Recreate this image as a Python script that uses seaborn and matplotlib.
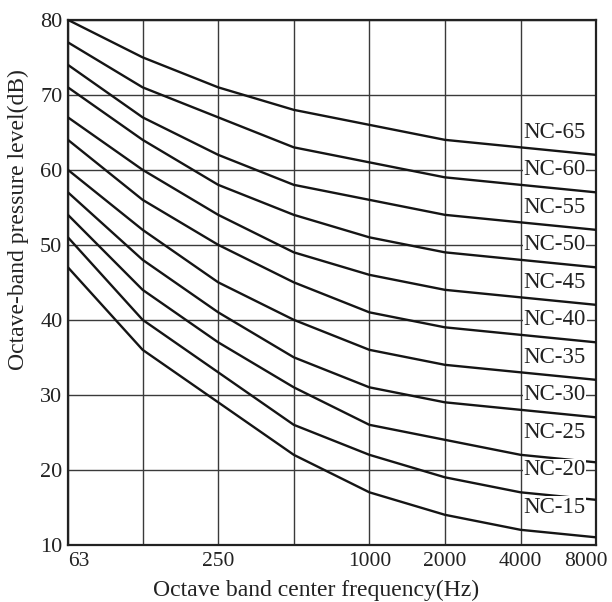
"""
NC (noise criterion) curves on octave band grid.
"""

import matplotlib
matplotlib.use("Agg")
import matplotlib.pyplot as plt
import matplotlib.transforms as mtransforms
import pandas as pd
import seaborn as sns

freqs = [63, 125, 250, 500, 1000, 2000, 4000, 8000]
tick_labels = ["63", "", "250", "", "1000", "2000", "4000", "8000"]

nc15 = [47, 36, 29, 22, 17, 14, 12, 11]
nc20 = [51, 40, 33, 26, 22, 19, 17, 16]
nc25 = [54, 44, 37, 31, 26, 24, 22, 21]
nc30 = [57, 48, 41, 35, 31, 29, 28, 27]
nc35 = [60, 52, 45, 40, 36, 34, 33, 32]
nc40 = [64, 56, 50, 45, 41, 39, 38, 37]
nc45 = [67, 60, 54, 49, 46, 44, 43, 42]
nc50 = [71, 64, 58, 54, 51, 49, 48, 47]
nc55 = [74, 67, 62, 58, 56, 54, 53, 52]
nc60 = [77, 71, 67, 63, 61, 59, 58, 57]
nc65 = [80, 75, 71, 68, 66, 64, 63, 62]

nc_levels = [15, 20, 25, 30, 35, 40, 45, 50, 55, 60, 65]
curves = [nc15, nc20, nc25, nc30, nc35, nc40, nc45, nc50, nc55, nc60, nc65]

sns.set_style("white")
plt.rcParams["font.family"] = ["Liberation Serif", "DejaVu Serif"]

rows = []
for level, values in zip(nc_levels, curves):
    for f, v in zip(freqs, values):
        rows.append({"curve": f"NC-{level}", "freq": f, "level": v})
df = pd.DataFrame(rows)

fig = plt.figure(figsize=(6.12, 6.02), dpi=100)
ax = fig.add_axes([0.111, 0.095, 0.863, 0.872])
ax.set_xscale("log")

sns.lineplot(
    data=df,
    x="freq",
    y="level",
    hue="curve",
    palette=["#151515"] * len(nc_levels),
    linewidth=1.7,
    legend=False,
    ax=ax,
    zorder=3,
)

ax.set_xlim(63, 8000)
ax.set_ylim(10, 80)
ax.set_xticks(freqs)
ax.set_xticklabels(tick_labels)
ax.xaxis.set_minor_locator(plt.NullLocator())
ax.set_yticks(range(10, 81, 10))
ax.tick_params(axis="both", length=0, colors="#222222")
ax.tick_params(axis="x", pad=5, labelsize=15.5)
ax.tick_params(axis="y", pad=4, labelsize=16)

labels = ax.get_xticklabels()
labels[0].set_horizontalalignment("left")
labels[-1].set_transform(
    labels[-1].get_transform() + mtransforms.ScaledTranslation(-0.10, 0, fig.dpi_scale_trans)
)

ax.grid(True, color="#3a3a3a", linewidth=1.0)
ax.set_axisbelow(True)
for spine in ax.spines.values():
    spine.set_color("#222222")
    spine.set_linewidth(1.6)

for level in nc_levels:
    ax.text(
        4120,
        level,
        f"NC-{level}",
        fontsize=16.5,
        color="#222222",
        ha="left",
        va="center",
        zorder=4,
        bbox=dict(facecolor="white", edgecolor="none", pad=0.3),
    )

ax.set_xlabel("Octave band center frequency(Hz)", fontsize=17, color="#222222")
ax.set_ylabel("Octave-band pressure level(dB)", fontsize=17, color="#222222")
ax.xaxis.set_label_coords(0.47, -0.066)
ax.yaxis.set_label_coords(-0.074, 0.62)

fig.savefig("out.png", dpi=100)
